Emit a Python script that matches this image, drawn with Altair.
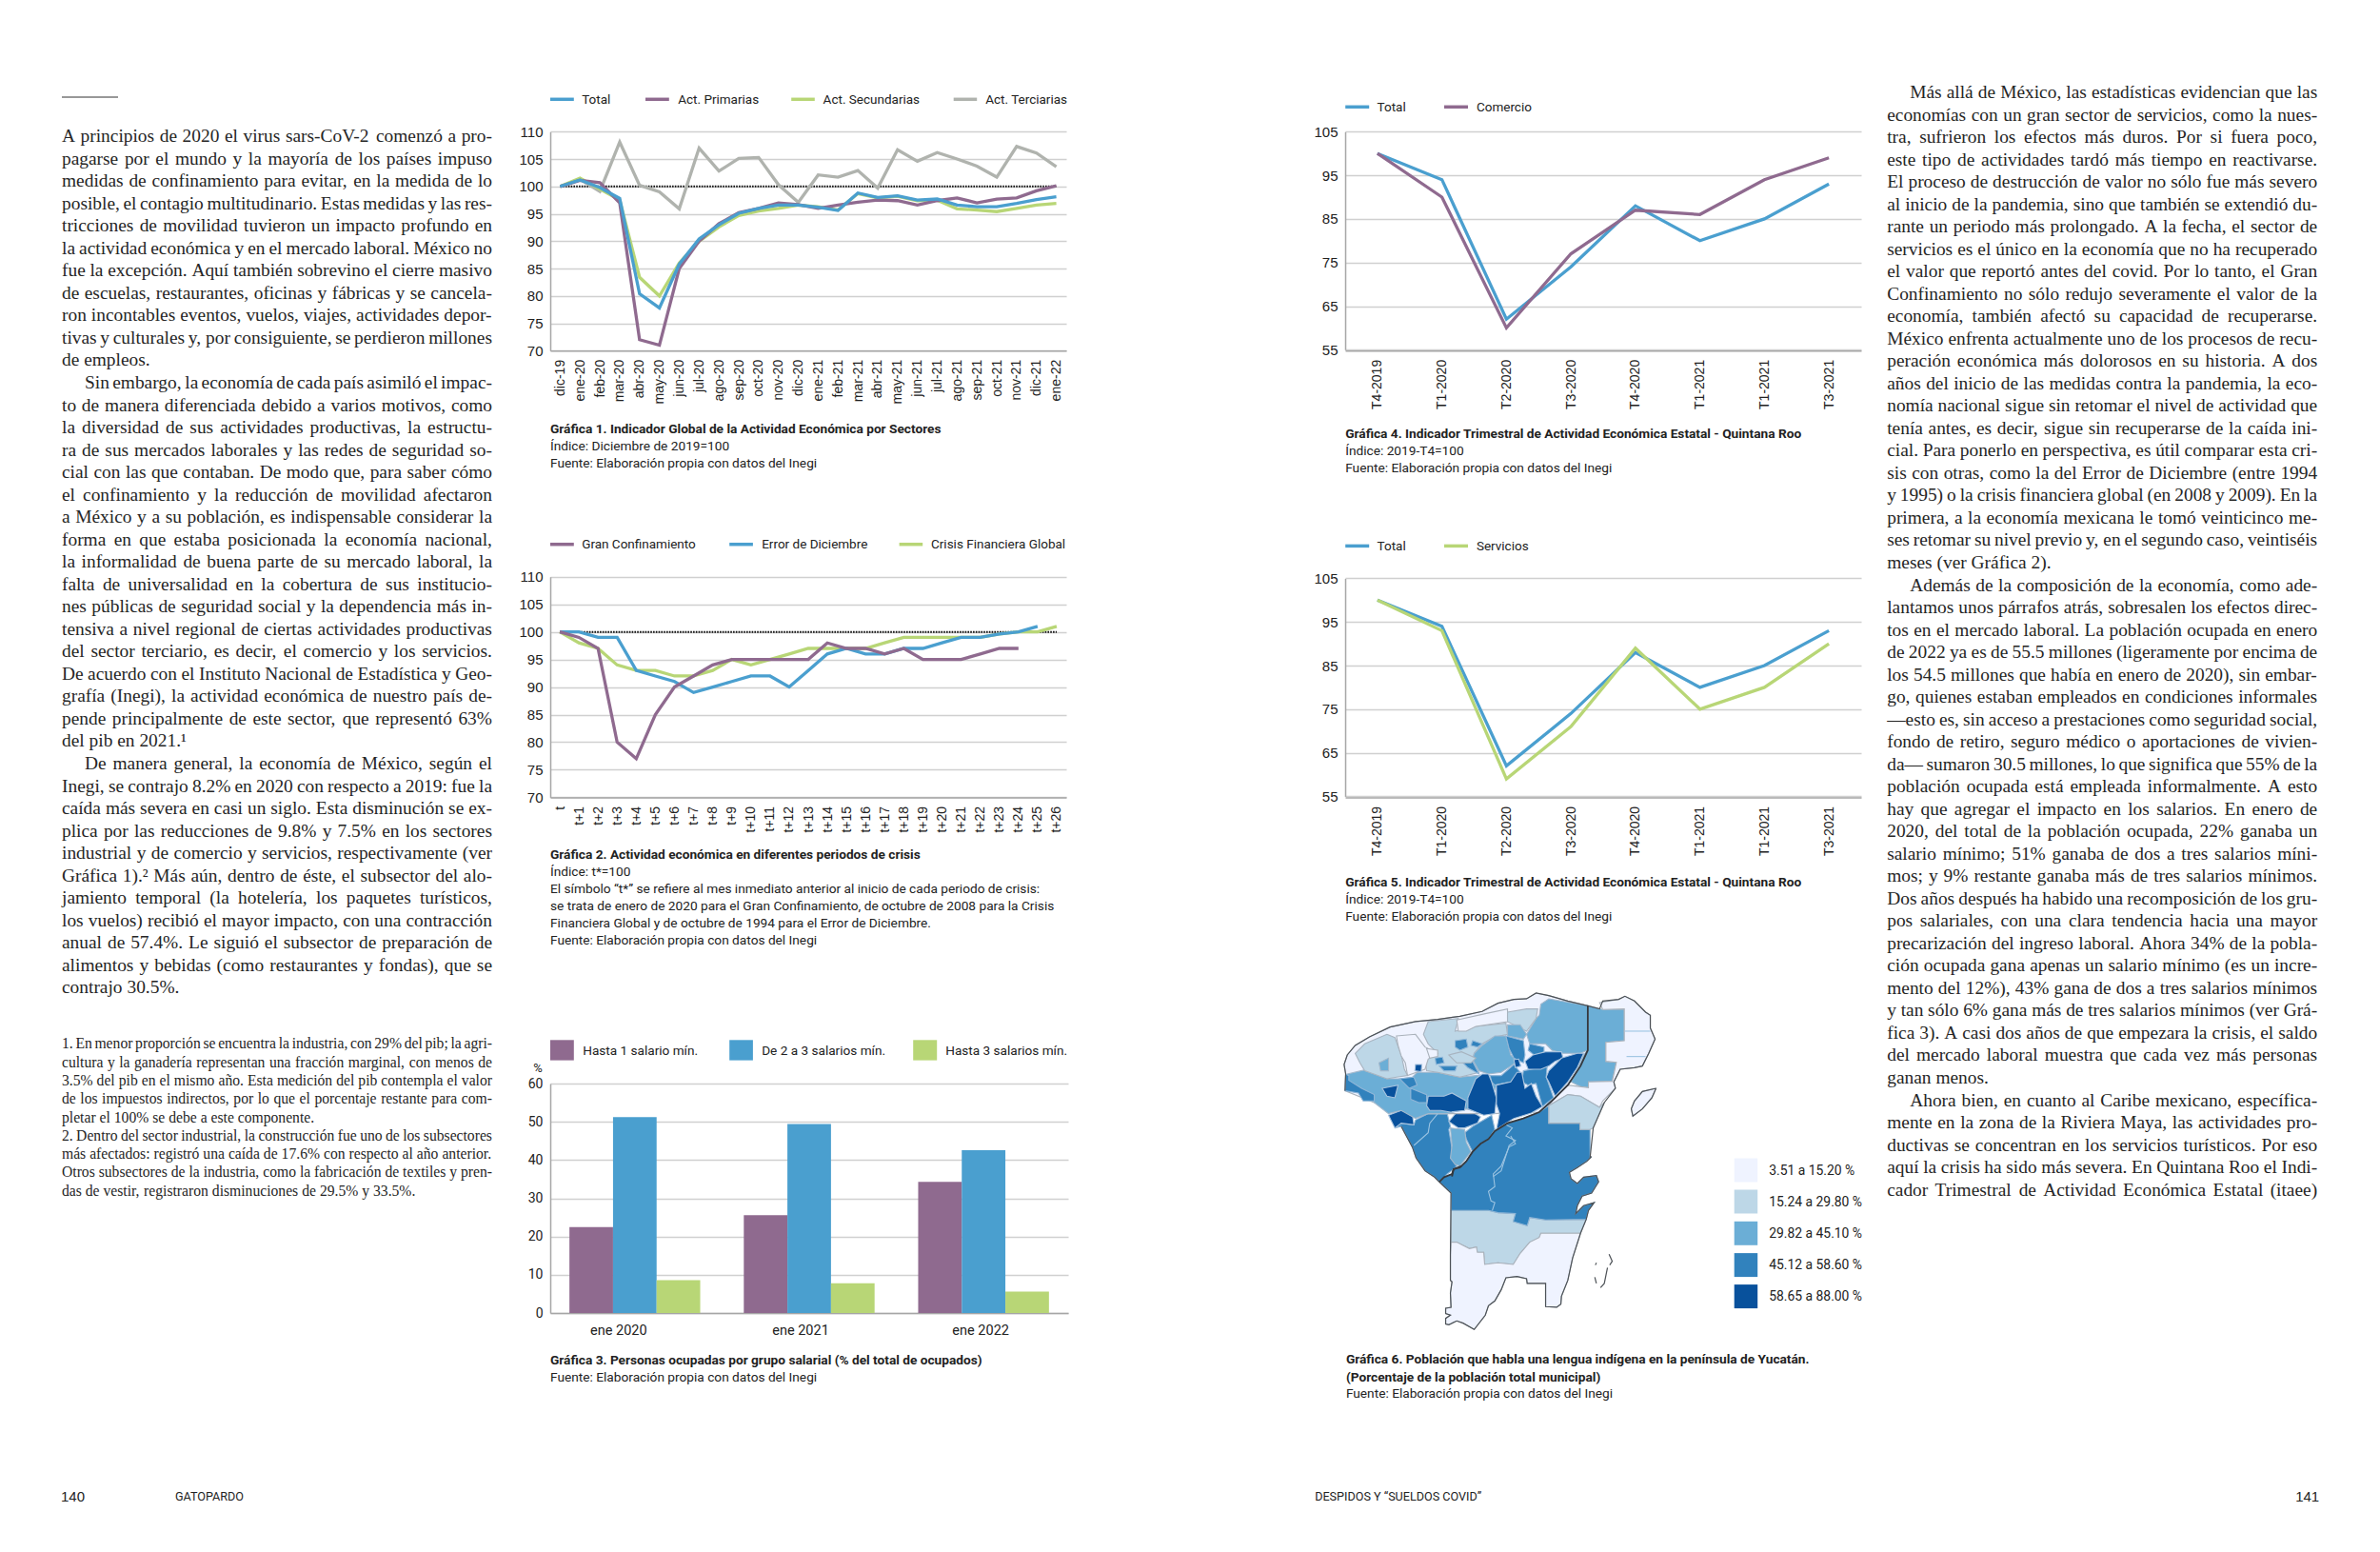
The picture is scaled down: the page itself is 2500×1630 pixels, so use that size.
import unicodedata
import altair as alt
import pandas as pd

# ---------- page grid ----------
COL_X = [8, 577.8, 1412.8, 2247.8]
ROW_Y = [8, 368.3, 836.7]
COL_W = [276.8, 542, 542, 100]
ROW_H = [360.3, 468.4, 541]
COL_GAP = 293

SANS = "Roboto"
TICK = "Liberation Sans"
SERIF = "Liberation Serif"
INK = "#222222"
BLUE, PURPLE, GREEN, GRAY = "#4a9fcf", "#8f6a8f", "#b8d676", "#b0b3ae"
GRID, DOMAIN = "#d0d0d0", "#a6a6a6"

# ---------- chart 1 ----------
MONTHS = ["dic-19", "ene-20", "feb-20", "mar-20", "abr-20", "may-20", "jun-20", "jul-20", "ago-20", "sep-20",
          "oct-20", "nov-20", "dic-20", "ene-21", "feb-21", "mar-21", "abr-21", "may-21", "jun-21", "jul-21",
          "ago-21", "sep-21", "oct-21", "nov-21", "dic-21", "ene-22"]
G1_TOTAL = [100, 101.2, 99.8, 97.8, 80.4, 77.8, 85.8, 90.4, 93, 95.1, 96, 96.6, 96.6, 96.2, 95.6, 98.8, 98, 98.3,
            97.5, 97.7, 96.6, 96.3, 96.3, 96.9, 97.6, 98.1]
G1_PRIM = [100, 101.1, 100.7, 97, 72, 71, 85, 90, 93.2, 95.2, 96, 97, 96.7, 96, 96.6, 97.1, 97.5, 97.4, 96.6, 97.4,
           97.9, 97, 97.7, 97.9, 99.2, 100.1]
G1_SEC = [100, 101.5, 99.5, 97.5, 83.4, 80, 86, 90, 92.6, 94.7, 95.5, 96, 96.6, 96.3, 95.7, 98.7, 97.9, 98.2, 97.4,
          97.5, 95.9, 95.7, 95.4, 96, 96.6, 96.9]
G1_TER = [100, 101.3, 99.1, 108.1, 100.2, 99, 95.9, 107, 102.8, 105.1, 105.3, 100.3, 97.1, 102.1, 101.7, 102.9, 99.7,
          106.7, 104.6, 106.2, 105, 103.7, 101.7, 107.3, 106.1, 103.6]

# ---------- chart 2 ----------
PERIODS = ["t"] + [f"t+{i}" for i in range(1, 27)]
G2_GRAN = [100, 99, 97, 80, 77, 85, 90, 92, 94, 95, 95, 95, 95, 95, 98, 97, 97, 96, 97, 95, 95, 95, 96, 97, 97]
G2_ERROR = [100, 100, 99, 99, 93, 92, 91, 89, 90, 91, 92, 92, 90, 93, 96, 97, 96, 96, 97, 97, 98, 99, 99, 99.6, 100, 101]
G2_CRISIS = [100, 98, 97, 94, 93, 93, 92, 92, 93, 95, 94, 95, 96, 97, 97, 97, 97, 98, 99, 99, 99, 99, 99, 99.6, 100, 100, 101]

# ---------- chart 3 ----------
G3_YEARS = ["ene 2020", "ene 2021", "ene 2022"]
G3_SERIES = ["Hasta 1 salario mín.", "De 2 a 3 salarios mín.", "Hasta 3 salarios mín."]
G3_HASTA1 = [22.5, 25.6, 34.3]
G3_DE2A3 = [51.2, 49.4, 42.6]
G3_HASTA3 = [8.6, 7.8, 5.6]

# ---------- charts 4, 5 ----------
QUARTERS = ["T4-2019", "T1-2020", "T2-2020", "T3-2020", "T4-2020", "T1-2021", "T1-2021 ", "T3-2021"]
Q_TOTAL = [100, 94, 62, 74, 88, 80, 85, 93]
Q_COMERCIO = [100, 90, 60, 77, 87, 86, 94, 99]
Q_SERVICIOS = [100, 93, 59, 71, 89, 75, 80, 90]

# ---------- captions ----------
CAP1 = ["Gráfica 1. Indicador Global de la Actividad Económica por Sectores", "Índice: Diciembre de 2019=100",
        "Fuente: Elaboración propia con datos del Inegi"]
CAP2 = ["Gráfica 2. Actividad económica en diferentes periodos de crisis", "Índice: t*=100",
        "El símbolo “t*” se refiere al mes inmediato anterior al inicio de cada periodo de crisis:",
        "se trata de enero de 2020 para el Gran Confinamiento, de octubre de 2008 para la Crisis",
        "Financiera Global y de octubre de 1994 para el Error de Diciembre.",
        "Fuente: Elaboración propia con datos del Inegi"]
CAP3 = ["Gráfica 3. Personas ocupadas por grupo salarial (% del total de ocupados)",
        "Fuente: Elaboración propia con datos del Inegi"]
CAP4 = ["Gráfica 4. Indicador Trimestral de Actividad Económica Estatal - Quintana Roo", "Índice: 2019-T4=100",
        "Fuente: Elaboración propia con datos del Inegi"]
CAP5 = ["Gráfica 5. Indicador Trimestral de Actividad Económica Estatal - Quintana Roo", "Índice: 2019-T4=100",
        "Fuente: Elaboración propia con datos del Inegi"]
CAP6 = ["Gráfica 6. Población que habla una lengua indígena en la península de Yucatán.",
        "(Porcentaje de la población total municipal)", "Fuente: Elaboración propia con datos del Inegi"]

# ---------- body text ----------
BODY_L1 = """A principios de 2020 el virus sars-CoV-2 comenzó a pro-
pagarse por el mundo y la mayoría de los países impuso
medidas de confinamiento para evitar, en la medida de lo
posible, el contagio multitudinario. Estas medidas y las res-
tricciones de movilidad tuvieron un impacto profundo en
la actividad económica y en el mercado laboral. México no
fue la excepción. Aquí también sobrevino el cierre masivo
de escuelas, restaurantes, oficinas y fábricas y se cancela-
ron incontables eventos, vuelos, viajes, actividades depor-
tivas y culturales y, por consiguiente, se perdieron millones
de empleos.""".split("\n")
BODY_L2 = """Sin embargo, la economía de cada país asimiló el impac-
to de manera diferenciada debido a varios motivos, como
la diversidad de sus actividades productivas, la estructu-
ra de sus mercados laborales y las redes de seguridad so-
cial con las que contaban. De modo que, para saber cómo
el confinamiento y la reducción de movilidad afectaron
a México y a su población, es indispensable considerar la
forma en que estaba posicionada la economía nacional,
la informalidad de buena parte de su mercado laboral, la
falta de universalidad en la cobertura de sus institucio-
nes públicas de seguridad social y la dependencia más in-
tensiva a nivel regional de ciertas actividades productivas
del sector terciario, es decir, el comercio y los servicios.
De acuerdo con el Instituto Nacional de Estadística y Geo-
grafía (Inegi), la actividad económica de nuestro país de-
pende principalmente de este sector, que representó 63%
del pib en 2021.¹""".split("\n")
BODY_L3 = """De manera general, la economía de México, según el
Inegi, se contrajo 8.2% en 2020 con respecto a 2019: fue la
caída más severa en casi un siglo. Esta disminución se ex-
plica por las reducciones de 9.8% y 7.5% en los sectores
industrial y de comercio y servicios, respectivamente (ver
Gráfica 1).² Más aún, dentro de éste, el subsector del alo-
jamiento temporal (la hotelería, los paquetes turísticos,
los vuelos) recibió el mayor impacto, con una contracción
anual de 57.4%. Le siguió el subsector de preparación de
alimentos y bebidas (como restaurantes y fondas), que se
contrajo 30.5%.""".split("\n")
NOTES = """1. En menor proporción se encuentra la industria, con 29% del pib; la agri-
cultura y la ganadería representan una fracción marginal, con menos de
3.5% del pib en el mismo año. Esta medición del pib contempla el valor
de los impuestos indirectos, por lo que el porcentaje restante para com-
pletar el 100% se debe a este componente.
2. Dentro del sector industrial, la construcción fue uno de los subsectores
más afectados: registró una caída de 17.6% con respecto al año anterior.
Otros subsectores de la industria, como la fabricación de textiles y pren-
das de vestir, registraron disminuciones de 29.5% y 33.5%.""".split("\n")
BODY_R1 = """Más allá de México, las estadísticas evidencian que las
economías con un gran sector de servicios, como la nues-
tra, sufrieron los efectos más duros. Por si fuera poco,
este tipo de actividades tardó más tiempo en reactivarse.
El proceso de destrucción de valor no sólo fue más severo
al inicio de la pandemia, sino que también se extendió du-
rante un periodo más prolongado. A la fecha, el sector de
servicios es el único en la economía que no ha recuperado
el valor que reportó antes del covid. Por lo tanto, el Gran
Confinamiento no sólo redujo severamente el valor de la
economía, también afectó su capacidad de recuperarse.
México enfrenta actualmente uno de los procesos de recu-
peración económica más dolorosos en su historia. A dos
años del inicio de las medidas contra la pandemia, la eco-
nomía nacional sigue sin retomar el nivel de actividad que
tenía antes, es decir, sigue sin recuperarse de la caída ini-
cial. Para ponerlo en perspectiva, es útil comparar esta cri-
sis con otras, como la del Error de Diciembre (entre 1994
y 1995) o la crisis financiera global (en 2008 y 2009). En la
primera, a la economía mexicana le tomó veinticinco me-
ses retomar su nivel previo y, en el segundo caso, veintiséis
meses (ver Gráfica 2).""".split("\n")
BODY_R2 = """Además de la composición de la economía, como ade-
lantamos unos párrafos atrás, sobresalen los efectos direc-
tos en el mercado laboral. La población ocupada en enero
de 2022 ya es de 55.5 millones (ligeramente por encima de
los 54.5 millones que había en enero de 2020), sin embar-
go, quienes estaban empleados en condiciones informales
—esto es, sin acceso a prestaciones como seguridad social,
fondo de retiro, seguro médico o aportaciones de vivien-
da— sumaron 30.5 millones, lo que significa que 55% de la
población ocupada está empleada informalmente. A esto
hay que agregar el impacto en los salarios. En enero de
2020, del total de la población ocupada, 22% ganaba un
salario mínimo; 51% ganaba de dos a tres salarios míni-
mos; y 9% restante ganaba más de tres salarios mínimos.
Dos años después ha habido una recomposición de los gru-
pos salariales, con una clara tendencia hacia una mayor
precarización del ingreso laboral. Ahora 34% de la pobla-
ción ocupada gana apenas un salario mínimo (es un incre-
mento del 12%), 43% gana de dos a tres salarios mínimos
y tan sólo 6% gana más de tres salarios mínimos (ver Grá-
fica 3). A casi dos años de que empezara la crisis, el saldo
del mercado laboral muestra que cada vez más personas
ganan menos.""".split("\n")
BODY_R3 = """Ahora bien, en cuanto al Caribe mexicano, específica-
mente en la zona de la Riviera Maya, las actividades pro-
ductivas se concentran en los servicios turísticos. Por eso
aquí la crisis ha sido más severa. En Quintana Roo el Indi-
cador Trimestral de Actividad Económica Estatal (itaee)""".split("\n")

# ---------- map shapes (traced outlines) ----------
LEVELS = ["3.51 a 15.20 %", "15.24 a 29.80 %", "29.82 a 45.10 %", "45.12 a 58.60 %", "58.65 a 88.00 %"]
L1, L2, L3, L4, L5 = LEVELS
LEVEL_FILL = ["#eff3ff", "#bdd7e7", "#6baed6", "#3182bd", "#08519c"]
LEVEL_EDGE = ["#aab2bb", "#a8b4c0", "#a3b8cc", "#8fb6d8", "#a9c4de"]

SHAPES_UPPER = [
    (L1, [(35,245),(45,215),(70,185),(115,158),(180,127),(260,110),(330,103),(400,93),(470,78),(520,52),(570,40),(610,38),(640,20),(680,28),(740,45),(803,60),(803,200),(780,250),(740,310),(695,355),(650,395),(500,400),(300,400),(130,365),(38,328),(40,275)]),
    (L3, [(45,275),(100,262),(170,290),(210,290),(250,285),(265,270),(330,270),(400,285),(450,280),(500,280),(520,300),(480,400),(420,385),(360,400),(300,400),(260,415),(215,390),(175,400),(130,365),(95,340),(50,310)]),
    (L2, [(70,210),(100,180),(170,150),(195,160),(215,215),(225,260),(235,280),(200,285),(170,290),(100,265),(85,240)]),
    (L2, [(300,110),(395,100),(385,140),(450,125),(545,115),(550,150),(505,160),(470,180),(445,210),(440,235),(460,270),(400,285),(330,270),(295,265),(290,225),(330,210),(300,180),(285,150)]),
    (L1, [(200,155),(260,150),(290,190),(330,210),(300,228),(290,260),(235,280),(228,240),(215,218),(205,185)]),
    (L1, [(390,105),(480,85),(550,70),(550,110),(450,125),(420,140),(395,140)]),
    (L3, [(655,55),(680,38),(803,60),(803,200),(780,210),(725,210),(690,200),(670,180),(620,180),(610,150),(640,100),(650,90)]),
    (L2, [(550,80),(610,70),(645,70),(640,100),(610,140),(590,130),(550,110)]),
    (L3, [(550,120),(590,120),(610,150),(600,165),(550,155)]),
    (L3, [(470,185),(510,155),(545,155),(560,215),(580,235),(560,250),(530,270),(490,275),(460,265),(440,230),(445,210)]),
    (L4, [(545,155),(600,170),(605,215),(600,240),(570,225),(555,195)]),
    (L4, [(620,180),(665,190),(665,205),(640,220),(615,200)]),
    (L4, [(495,280),(530,280),(570,245),(590,270),(560,300),(510,310),(500,300)]),
    (L4, [(600,265),(675,250),(672,285),(695,350),(660,378),(640,305),(615,310),(595,300)]),
    (L5, [(605,235),(630,215),(670,205),(720,205),(725,225),(700,235),(680,250),(655,260),(615,260)]),
    (L5, [(680,265),(720,225),(770,210),(790,210),(770,255),(740,300),(700,345),(680,300),(672,285)]),
    (L5, [(450,290),(470,275),(490,275),(500,300),(515,350),(510,400),(475,405),(425,385),(425,350)]),
    (L5, [(515,310),(560,300),(580,270),(595,270),(605,320),(625,305),(640,345),(660,378),(625,398),(570,415),(545,430),(515,450),(525,400),(515,370)]),
    (L5, [(570,230),(585,228),(592,250),(575,255)]),
    (L4, [(245,320),(295,340),(295,365),(270,365),(245,355)]),
    (L5, [(300,345),(350,345),(375,335),(420,360),(415,390),(370,395),(340,390),(305,390),(295,375)]),
    (L4, [(210,290),(255,285),(265,310),(240,320)]),
    (L5, [(155,320),(205,310),(195,350),(170,345)]),
    (L4, [(50,295),(90,320),(130,340),(130,360),(95,360),(80,335),(38,328),(40,275),(50,280)]),
    (L4, [(385,170),(420,165),(425,190),(400,200),(385,190)]),
    (L4, [(440,170),(470,180),(455,190),(435,185)]),
    (L4, [(322,225),(345,222),(350,240),(325,245)]),
    (L4, [(405,235),(440,235),(460,275),(425,255)]),
    (L4, [(335,250),(390,250),(385,265),(350,265)]),
    (L3, [(145,240),(175,225),(175,265),(150,265)]),
    (L2, [(365,215),(405,205),(450,225),(435,240),(390,240)]),
    (L1, [(295,195),(330,200),(330,220),(305,225)]),
    (L5, [(260,245),(280,245),(278,268),(258,265)]),
    (L3, [(803,60),(850,72),(918,70),(918,170),(860,175),(860,235),(893,238),(880,298),(805,300),(805,318),(780,315),(750,300),(770,260),(790,215),(803,200)]),
    (L1, [(840,50),(900,40),(920,30),(950,45),(985,80),(1000,90),(1000,130),(1015,165),(995,210),(975,250),(950,255),(905,260),(885,300),(890,320),(850,360),(840,380),(780,345),(740,340),(680,375),(695,355),(740,310),(805,318),(805,300),(880,298),(893,238),(860,235),(860,175),(918,170),(918,70),(850,72)]),
    (L2, [(680,375),(740,340),(780,345),(840,380),(855,365),(820,445),(810,450),(778,450),(778,430),(680,430)]),
    (L1, [(1018,320),(975,330),(950,360),(940,385),(945,408),(975,385),(1005,350)]),
]
SHAPES_CAMPECHE = [
    (L4, [(195,445),(215,430),(255,435),(260,420),(300,400),(360,400),(370,440),(365,450),(375,510),(375,540),(390,565),(380,575),(360,590),(335,615),(320,600),(290,580),(262,540),(250,505),(215,440)]),
    (L4, [(415,460),(440,440),(500,405),(510,450),(490,480),(465,495),(440,520),(420,480)]),
    (L3, [(370,445),(415,450),(420,490),(435,520),(400,565),(385,560),(370,540),(375,500)]),
    (L5, [(175,405),(215,390),(250,400),(255,435),(215,430),(195,445)]),
    (L5, [(365,425),(390,395),(440,395),(465,410),(455,430),(415,445),(395,445)]),
]
EAST_RING_UPPER = [(380,575),(400,570),(420,550),(440,520),(465,495),(490,480),(510,455),(550,430),(600,415),(650,395),(680,375),(680,430),(778,430),(778,450),(810,450),(810,540)]
EAST_RING_LOWER = [(575,70),(560,85),(530,105),(505,120),(510,140),(530,155),(550,135),(590,130),(597,150),(575,185),(545,195),(530,225),(525,250),(550,225),(583,215),(565,240),(558,268),(430,270),(380,262),(372,288),(328,275),(335,250),(280,247),(250,240),(132,240),(132,185),(95,150),(110,135),(135,125),(140,110)]
SHAPES_LOWER = [
    (L2, [(132,240),(250,240),(280,247),(335,250),(328,275),(372,288),(380,262),(430,270),(558,268),(540,312),(415,312),(410,325),(380,340),(350,375),(328,410),(280,405),(238,410),(235,372),(215,372),(212,355),(190,360),(170,350),(150,340),(132,340)]),
    (L1, [(132,340),(150,340),(170,350),(190,360),(212,355),(215,372),(235,372),(238,410),(280,405),(328,410),(350,375),(380,340),(410,325),(415,312),(540,312),(515,390),(500,460),(480,510),(478,535),(465,545),(430,543),(430,470),(372,470),(370,455),(340,448),(305,452),(290,490),(270,525),(250,540),(240,570),(205,615),(170,595),(150,588),(125,600),(115,598),(115,580),(130,570),(115,565),(115,548),(132,545),(130,500),(135,465),(130,460),(130,380)]),
]
COAST_UPPER = [
    [(38,328),(40,275),(35,245),(45,215),(70,185),(115,158),(180,127),(260,110),(330,103),(400,93),(470,78),(520,52),(570,40),(610,38),(640,20),(680,28),(740,45),(803,60),(840,70),(850,45),(900,40),(920,30),(950,45),(985,80),(1000,90),(1000,130),(1015,165),(995,210),(975,250),(950,255),(905,260),(885,300),(890,320),(855,365),(820,445),(810,540)],
    [(1018,320),(975,330),(950,360),(940,385),(945,408),(975,385),(1005,350),(1018,320)],
    [(215,440),(250,505),(262,540),(290,580),(320,600),(335,615)],
]
COAST_LOWER = [
    [(575,70),(560,85),(530,105),(505,120),(510,140),(530,155),(550,135),(590,130),(597,150),(575,185),(545,195),(530,225),(525,250),(550,225),(583,215),(565,240),(558,268),(540,312),(515,390),(500,460),(480,510),(478,535),(465,545),(430,543),(430,470),(372,470),(370,455),(340,448),(305,452),(290,490),(270,525),(250,540),(240,570),(205,615),(170,595),(150,588),(125,600),(115,598),(115,580),(130,570),(115,565),(115,548),(132,545),(130,500),(135,465),(130,460),(130,380),(132,185),(95,150)],
    [(630,378),(640,400),(632,412)],
    [(625,420),(615,470),(603,483)],
    [(590,405),(587,412)],
    [(585,450),(590,470)],
]
STATE_LINE_UPPER = [(803,60),(803,200),(780,250),(740,310),(695,355),(650,395),(600,415),(550,430),(510,455),(490,480),(465,495),(440,520),(420,550),(400,570),(380,575),(375,598)]
STATE_LINE_LOWER = [(165,100),(140,110),(135,125),(110,135),(95,150)]
INNER_UPPER = [
    [(545,435),(565,445),(545,470),(575,485),(555,500),(530,580),(505,598)],
    [(330,400),(305,430),(300,460),(255,500)],
    [(920,140),(1000,140)],
    [(925,220),(985,220)],
]
INNER_LOWER = [[(320,5),(335,30),(315,40),(290,100),(265,125),(270,165),(250,180),(258,210),(270,215),(262,240)]]


# ---------- helpers ----------
def up(pts):
    return [[1400 + x / 3, 1035 + y / 3] for x, y in pts]


def low(pts):
    return [[1480 + x / 3, 1190 + y / 3] for x, y in pts]


def poly(level, ring):
    return {"type": "Feature", "properties": {"level": level},
            "geometry": {"type": "Polygon", "coordinates": [ring + ring[:1]]}}


def linefeat(path):
    return {"type": "Feature", "properties": {},
            "geometry": {"type": "LineString", "coordinates": path}}


AFM = dict(zip("abcdefghijklmnopqrstuvwxyz",
               [444, 500, 444, 500, 444, 333, 500, 500, 278, 278, 500, 278, 778, 500, 500, 500, 500, 333, 389, 278,
                500, 500, 722, 500, 500, 444]))
AFM.update(zip("ABCDEFGHIJKLMNOPQRSTUVWXYZ",
               [722, 667, 667, 722, 611, 556, 722, 722, 333, 389, 722, 611, 889, 722, 722, 556, 722, 667, 556, 611,
                722, 722, 944, 722, 722, 611]))
AFM.update({".": 250, ",": 250, ":": 278, ";": 278, "-": 333, "(": 333, ")": 333, "%": 833, "—": 1000, "¹": 300, "²": 300})


def em(word):
    total = 0
    for ch in word:
        base = unicodedata.normalize("NFD", ch)[0]
        total += AFM.get(base, 500)
    return total / 1000


def size_for(blocks, avail, indent):
    best = 99
    for lines, has_indent in blocks:
        for i, line in enumerate(lines):
            words = line.split(" ")
            need = sum(em(w) for w in words) + 0.17 * (len(words) - 1)
            room = avail - (indent if (has_indent and i == 0) else 0)
            best = min(best, room / need)
    return best


def justified(lines, left, right, first_base, pitch, size, indent, origin, last_flush=False):
    rows = []
    for i, line in enumerate(lines):
        words = line.split(" ")
        x0 = left + (indent if i == 0 else 0)
        widths = [em(w) * size for w in words]
        natural = sum(widths)
        is_last = i == len(lines) - 1 and not last_flush
        gap = 0.25 * size if is_last or len(words) == 1 else (right - x0 - natural) / (len(words) - 1)
        x = x0
        for w, wd in zip(words, widths):
            rows.append({"x": x - origin[0], "y": first_base + i * pitch - origin[1], "t": w})
            x += wd + gap
    return rows


def words_layer(rows, size, color="#262626"):
    return alt.Chart(pd.DataFrame(rows)).mark_text(
        align="left", baseline="alphabetic", font=SERIF, fontSize=size, color=color
    ).encode(x=alt.X("x:Q", scale=None, axis=None), y=alt.Y("y:Q", scale=None, axis=None), text="t:N")


ONE = alt.Data(values=[{}])


def label(s, px, py, origin, size=13.7, weight=400, font=SANS, align="left"):
    return alt.Chart(ONE).mark_text(
        text=s, align=align, baseline="alphabetic", font=font, fontSize=size, fontWeight=weight, color=INK
    ).encode(x=alt.value(px - origin[0]), y=alt.value(py - origin[1]))


def caption(lines, px, bases, origin, bold=1):
    return [label(s, px, b, origin, weight=700 if i < bold else 400) for i, (s, b) in enumerate(zip(lines, bases))]


def key_line(color, x0, x1, py, text, tx, origin):
    return [
        alt.Chart(ONE).mark_rule(color=color, strokeWidth=3.5).encode(
            x=alt.value(x0 - origin[0]), x2=alt.value(x1 - origin[0]), y=alt.value(py - origin[1])),
        label(text, tx, py + 4.4, origin, size=13.5),
    ]


def key_box(color, x0, x1, y0, y1, origin):
    return alt.Chart(ONE).mark_rect(color=color).encode(
        x=alt.value(x0 - origin[0]), x2=alt.value(x1 - origin[0]),
        y=alt.value(y0 - origin[1]), y2=alt.value(y1 - origin[1]))


def y_axis(values, font=TICK, size=15):
    return alt.Axis(values=values, grid=True, gridColor=GRID, gridWidth=1.5, domainColor=DOMAIN, domainWidth=1.5,
                    ticks=False, labelFont=font, labelFontSize=size, labelColor=INK, labelPadding=8, title=None)


def x_axis_rot():
    return alt.Axis(labelAngle=270, ticks=False, grid=False, domainColor=DOMAIN, domainWidth=1.5, labelFont=TICK,
                    labelFontSize=14, labelColor=INK, labelPadding=9, title=None, labelOverlap=False,
                    labelBound=False, labelFlush=False)


def line_layers(categories, series, y_domain, y_ticks, y_range, x_width=542):
    xs = alt.Scale(type="point", domain=categories, range=[0, x_width], padding=0.5)
    ys = alt.Scale(domain=y_domain, range=y_range, nice=False, zero=False)
    out = []
    for vals, color, dash in series:
        df = pd.DataFrame({"c": categories[:len(vals)], "v": vals})
        if dash:
            mark = alt.Chart(df).mark_line(color=color, strokeWidth=2, strokeDash=[1.6, 1.2])
        else:
            mark = alt.Chart(df).mark_line(color=color, strokeWidth=3.3, strokeJoin="miter")
        out.append(mark.encode(
            x=alt.X("c:N", scale=xs, axis=x_axis_rot()),
            y=alt.Y("v:Q", scale=ys, axis=y_axis(y_ticks)),
        ))
    return out


def o(col, row):
    return (COL_X[col], ROW_Y[row])


# ---------- text columns ----------
LEFT = (65, 517)
RIGHT = (1982, 2434)
INDENT = 24
BODY_SIZE = size_for([(BODY_L1, False), (BODY_L2, True), (BODY_L3, True), (BODY_R1, True), (BODY_R2, True), (BODY_R3, True)], 452, INDENT)
NOTE_SIZE = size_for([(NOTES, False)], 452, 0)
PITCH = 23.5


def text_rows(lines, box, start, indent, origin, last_flush=False):
    return justified(lines, box[0], box[1], 149 + start * PITCH if box is LEFT else 103 + start * PITCH, PITCH,
                     BODY_SIZE, indent, origin, last_flush)


o00, o01, o02 = o(0, 0), o(0, 1), o(0, 2)
background = alt.Chart(ONE).mark_rect(color="white").encode(
    x=alt.value(0), x2=alt.value(2484), y=alt.value(0), y2=alt.value(1614))
top_rule = alt.Chart(ONE).mark_rule(color="#333333", strokeWidth=1).encode(
    x=alt.value(65 - o00[0]), x2=alt.value(124 - o00[0]), y=alt.value(102 - o00[1]))

panel_00 = alt.layer(background, top_rule,
                     words_layer(text_rows(BODY_L1, LEFT, 0, 0, o00), BODY_SIZE)
                     ).properties(width=COL_W[0], height=ROW_H[0])
panel_01 = alt.layer(words_layer(text_rows(BODY_L2, LEFT, 11, INDENT, o01), BODY_SIZE)
                     ).properties(width=COL_W[0], height=ROW_H[1])
panel_02 = alt.layer(words_layer(text_rows(BODY_L3, LEFT, 28, INDENT, o02), BODY_SIZE),
                     words_layer(justified(NOTES[:5], 65, 517, 1100, 19.3, NOTE_SIZE, 0, o02), NOTE_SIZE),
                     words_layer(justified(NOTES[5:], 65, 517, 1100 + 5 * 19.3, 19.3, NOTE_SIZE, 0, o02), NOTE_SIZE),
                     label("140", 64, 1576, o02, size=15, font=TICK),
                     label("GATOPARDO", 184, 1575, o02, size=12.6),
                     ).properties(width=COL_W[0], height=ROW_H[2])

o30, o31, o32 = o(3, 0), o(3, 1), o(3, 2)
panel_30 = alt.layer(words_layer(text_rows(BODY_R1, RIGHT, 0, INDENT, o30), BODY_SIZE)
                     ).properties(width=COL_W[3], height=ROW_H[0])
panel_31 = alt.layer(words_layer(text_rows(BODY_R2, RIGHT, 22, INDENT, o31), BODY_SIZE)
                     ).properties(width=COL_W[3], height=ROW_H[1])
panel_32 = alt.layer(words_layer(text_rows(BODY_R3, RIGHT, 45, INDENT, o32, last_flush=True), BODY_SIZE),
                     label("141", 2436, 1576, o32, size=15, font=TICK, align="right"),
                     ).properties(width=COL_W[3], height=ROW_H[2])

# ---------- chart panels ----------
o10 = o(1, 0)
R1 = [ROW_H[0], 138.3 - o10[1]]
panel_10 = alt.layer(
    *line_layers(MONTHS, [([100] * len(MONTHS), "#111111", True), (G1_TER, GRAY, False), (G1_SEC, GREEN, False),
                          (G1_PRIM, PURPLE, False), (G1_TOTAL, BLUE, False)],
                 [70, 110], list(range(70, 111, 5)), R1),
    *key_line(BLUE, 577.8, 602.6, 104.3, "Total", 611, o10),
    *key_line(PURPLE, 677.8, 702.6, 104.3, "Act. Primarias", 712, o10),
    *key_line(GREEN, 831, 855.6, 104.3, "Act. Secundarias", 864.4, o10),
    *key_line(GRAY, 1001.5, 1026, 104.3, "Act. Terciarias", 1035, o10),
    *caption(CAP1, 577.8, [455, 473, 491], o10),
).properties(width=COL_W[1], height=ROW_H[0])

o11 = o(1, 1)
R2 = [ROW_H[1], 605 - o11[1]]
panel_11 = alt.layer(
    *line_layers(PERIODS, [([100] * len(PERIODS), "#111111", True), (G2_CRISIS, GREEN, False), (G2_ERROR, BLUE, False),
                           (G2_GRAN, PURPLE, False)],
                 [70, 110], list(range(70, 111, 5)), R2),
    *key_line(PURPLE, 577.8, 602.6, 571, "Gran Confinamiento", 611, o11),
    *key_line(BLUE, 766, 790.7, 571, "Error de Diciembre", 800, o11),
    *key_line(GREEN, 944.4, 969, 571, "Crisis Financiera Global", 977.8, o11),
    *caption(CAP2, 577.8, [901, 919, 937, 955, 973, 991], o11),
).properties(width=COL_W[1], height=ROW_H[1])

o12 = o(1, 2)
G3_DF = pd.DataFrame({
    "year": G3_YEARS * 3,
    "serie": [s for s in G3_SERIES for _ in G3_YEARS],
    "v": G3_HASTA1 + G3_DE2A3 + G3_HASTA3,
})
G3_OFFSETS = "datum.value=='ene 2020'?-17:(datum.value=='ene 2021'?-9:-3)"
bars = alt.Chart(G3_DF).mark_bar().encode(
    x=alt.X("year:N", scale=alt.Scale(type="band", domain=G3_YEARS, range=[0, 544], paddingInner=0.25, paddingOuter=0.11),
            axis=alt.Axis(labelAngle=0, ticks=False, grid=False, domainColor=DOMAIN, domainWidth=1.5, labelFont=SANS,
                          labelFontSize=14.5, labelColor=INK, labelPadding=11, title=None,
                          labelOffset=alt.expr(G3_OFFSETS))),
    xOffset=alt.XOffset("serie:N", scale=alt.Scale(domain=G3_SERIES, paddingInner=0, paddingOuter=0)),
    y=alt.Y("v:Q", scale=alt.Scale(domain=[0, 60], range=[ROW_H[2], 1136.7 - o12[1]], nice=False),
            axis=y_axis(list(range(0, 61, 10)), font=SANS, size=14)),
    color=alt.Color("serie:N", scale=alt.Scale(domain=G3_SERIES, range=[PURPLE, BLUE, GREEN]), legend=None),
)
panel_12 = alt.layer(
    bars,
    key_box(PURPLE, 577.8, 602.6, 1091, 1112.3, o12), label(G3_SERIES[0], 612, 1106.5, o12, size=13.6),
    key_box(BLUE, 766, 790.7, 1091, 1112.3, o12), label(G3_SERIES[1], 800, 1106.5, o12, size=13.6),
    key_box(GREEN, 959, 984, 1091, 1112.3, o12), label(G3_SERIES[2], 993, 1106.5, o12, size=13.6),
    label("%", 560, 1125, o12, size=13),
    *caption(CAP3, 577.8, [1431.6, 1449.7], o12),
).properties(width=COL_W[1], height=ROW_H[2])

o20 = o(2, 0)
panel_20 = alt.layer(
    *line_layers(QUARTERS, [(Q_TOTAL, BLUE, False), (Q_COMERCIO, PURPLE, False)], [55, 105], list(range(55, 106, 10)),
                 [ROW_H[0] - 1, 138.3 - o20[1]]),
    *key_line(BLUE, 1413, 1438, 112.3, "Total", 1446.4, o20),
    *key_line(PURPLE, 1516.8, 1541.8, 112.3, "Comercio", 1550.7, o20),
    *caption(CAP4, 1413, [460, 478, 496], o20),
).properties(width=COL_W[2], height=ROW_H[0])

o21 = o(2, 1)
panel_21 = alt.layer(
    *line_layers(QUARTERS, [(Q_TOTAL, BLUE, False), (Q_SERVICIOS, GREEN, False)], [55, 105], list(range(55, 106, 10)),
                 [ROW_H[1] - 1, 606.7 - o21[1]]),
    *key_line(BLUE, 1413, 1438, 572.7, "Total", 1446.4, o21),
    *key_line(GREEN, 1516.8, 1541.8, 572.7, "Servicios", 1550.7, o21),
    *caption(CAP5, 1413, [930, 948, 966], o21),
).properties(width=COL_W[2], height=ROW_H[1])

# ---------- map panel ----------
o22 = o(2, 2)
features = [poly(lv, low(r)) for lv, r in SHAPES_LOWER]
features.append(poly(L4, up(EAST_RING_UPPER) + low(EAST_RING_LOWER)))
features += [poly(lv, up(r)) for lv, r in SHAPES_CAMPECHE]
features += [poly(lv, up(r)) for lv, r in SHAPES_UPPER]
inner = [linefeat(up(p)) for p in INNER_UPPER] + [linefeat(low(p)) for p in INNER_LOWER]
coast = [linefeat(up(p)) for p in COAST_UPPER] + [linefeat(low(p)) for p in COAST_LOWER]
state = [linefeat(up(STATE_LINE_UPPER)), linefeat(low(STATE_LINE_LOWER))]
PROJ = dict(type="identity", scale=1, translate=[-o22[0], -o22[1]])

map_fill = alt.Chart(alt.Data(values=features)).mark_geoshape(strokeWidth=1.1, clip=False).encode(
    color=alt.Color("properties.level:N", scale=alt.Scale(domain=LEVELS, range=LEVEL_FILL), legend=None),
    stroke=alt.Stroke("properties.level:N", scale=alt.Scale(domain=LEVELS, range=LEVEL_EDGE), legend=None),
).project(**PROJ)
map_inner = alt.Chart(alt.Data(values=inner)).mark_geoshape(filled=False, clip=False, stroke="#9cc4e2", strokeWidth=1.1).project(**PROJ)
map_coast = alt.Chart(alt.Data(values=coast)).mark_geoshape(filled=False, clip=False, stroke="#4d5257", strokeWidth=1.2).project(**PROJ)
map_state = alt.Chart(alt.Data(values=state)).mark_geoshape(filled=False, clip=False, stroke="#34383d", strokeWidth=1.8).project(**PROJ)

KEY_CENTERS = [1227.7, 1260.7, 1294, 1327.3, 1360.3]
map_keys = []
for lv, col, cy in zip(LEVELS, LEVEL_FILL, KEY_CENTERS):
    map_keys.append(key_box(col, 1821.5, 1846, cy - 12.5, cy + 12.5, o22))
    map_keys.append(label(lv, 1858, cy + 4.5, o22, size=13.9))

panel_22 = alt.layer(
    map_fill, map_inner, map_coast, map_state, *map_keys,
    *caption(CAP6, 1413.7, [1431, 1450, 1467], o22, bold=2),
    label("DESPIDOS Y “SUELDOS COVID”", 1381, 1575, o22, size=12.6),
).properties(width=COL_W[2], height=ROW_H[2])

chart = alt.concat(
    panel_00, panel_10, panel_20, panel_30,
    panel_01, panel_11, panel_21, panel_31,
    panel_02, panel_12, panel_22, panel_32,
    columns=4, spacing=alt.RowColnumber(row=0, column=COL_GAP), bounds="flush",
).resolve_scale(color="independent", stroke="independent").properties(
    padding=0, autosize=alt.AutoSizeParams(type="pad")
).configure_view(stroke=None)

chart.save("out.html", embed_options={"renderer": "svg", "actions": False})
